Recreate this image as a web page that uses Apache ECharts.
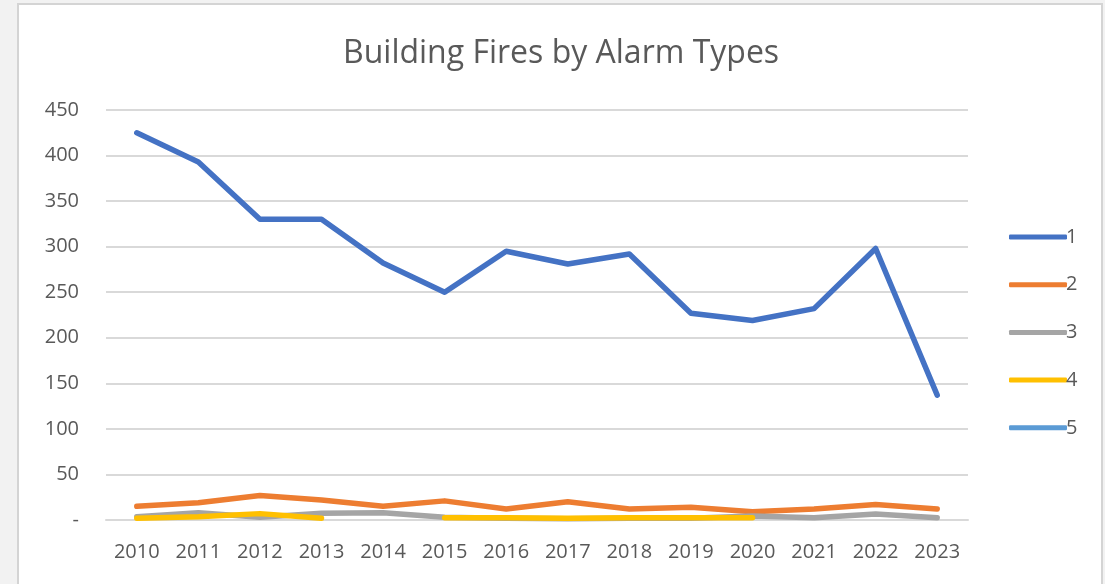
<!DOCTYPE html>
<html>
<head>
<meta charset="utf-8">
<script src="https://cdn.jsdelivr.net/npm/echarts@6/dist/echarts.min.js"></script>
<style>
html,body{margin:0;padding:0;background:#f2f2f2;}
#chart{width:1105px;height:584px;}
</style>
</head>
<body>
<div id="chart"></div>
<script>
const years = ['2010','2011','2012','2013','2014','2015','2016','2017','2018','2019','2020','2021','2022','2023'];
const alarm1 = [425, 393, 330, 330, 282, 250, 295, 281, 292, 227, 219, 232, 298, 137];
const alarm2 = [15, 19, 27, 22, 15, 21, 12, 20, 12, 14, 9, 12, 17, 12];
const alarm3 = [3.5, 8, 3, 7.5, 8, 3, 2, 1.5, 2, 2, 4.5, 2.5, 6.5, 2.5];
const alarm4 = [2, 3.5, 7, 2, null, 2.5, 2.5, 2, 2.5, 2.5, 2.5, null, null, null];
const alarm5 = [null, null, null, null, null, null, null, null, null, null, null, null, null, null];
const seriesNames = ['1','2','3','4','5'];
const seriesColors = ['#4472C4','#ED7D31','#A5A5A5','#FFC000','#5B9BD5'];
const yTicks = [0, 50, 100, 150, 200, 250, 300, 350, 400, 450];

const font = "'Open Sans', 'Noto Sans', sans-serif";
const chart = echarts.init(document.getElementById('chart'));
const allData = [alarm1, alarm2, alarm3, alarm4, alarm5];
chart.setOption({
  animation: false,
  backgroundColor: '#f2f2f2',
  graphic: [{
    type: 'rect', z: -10, silent: true,
    shape: {x: 18, y: 4, width: 1084, height: 600},
    style: {fill: '#ffffff', stroke: '#d4d4d4', lineWidth: 2}
  }],
  title: {
    text: 'Building Fires by Alarm Types',
    left: 338, top: 33,
    textStyle: {fontFamily: font, fontSize: 32, fontWeight: 'normal', color: '#595959'}
  },
  legend: {
    orient: 'vertical', left: 1004, top: 222,
    itemWidth: 58, itemHeight: 5, itemGap: 27.7,
    icon: 'roundRect',
    textStyle: {fontFamily: font, fontSize: 20, lineHeight: 20, color: '#595959', padding: [0,0,0,-6]},
    data: seriesNames
  },
  grid: {left: 106, right: 137, top: 110, bottom: 64},
  xAxis: {
    type: 'category', data: years, boundaryGap: true,
    axisLine: {show: true, lineStyle: {color: '#d9d9d9', width: 2}},
    axisTick: {show: false},
    axisLabel: {fontFamily: font, fontSize: 20, color: '#595959', margin: 22}
  },
  yAxis: {
    type: 'value', min: yTicks[0], max: yTicks[yTicks.length-1], interval: 50,
    axisLine: {show: false}, axisTick: {show: false},
    splitLine: {lineStyle: {color: '#d9d9d9', width: 2}},
    axisLabel: {fontFamily: font, fontSize: 20, color: '#595959', margin: 27,
      formatter: v => v === 0 ? '-' : String(v)}
  },
  series: seriesNames.map((n, i) => ({
    name: n, type: 'line', data: allData[i],
    symbol: 'none', connectNulls: false,
    itemStyle: {color: seriesColors[i]},
    lineStyle: {color: seriesColors[i], width: 5.5, cap: 'round', join: 'round'}
  }))
});
</script>
</body>
</html>
